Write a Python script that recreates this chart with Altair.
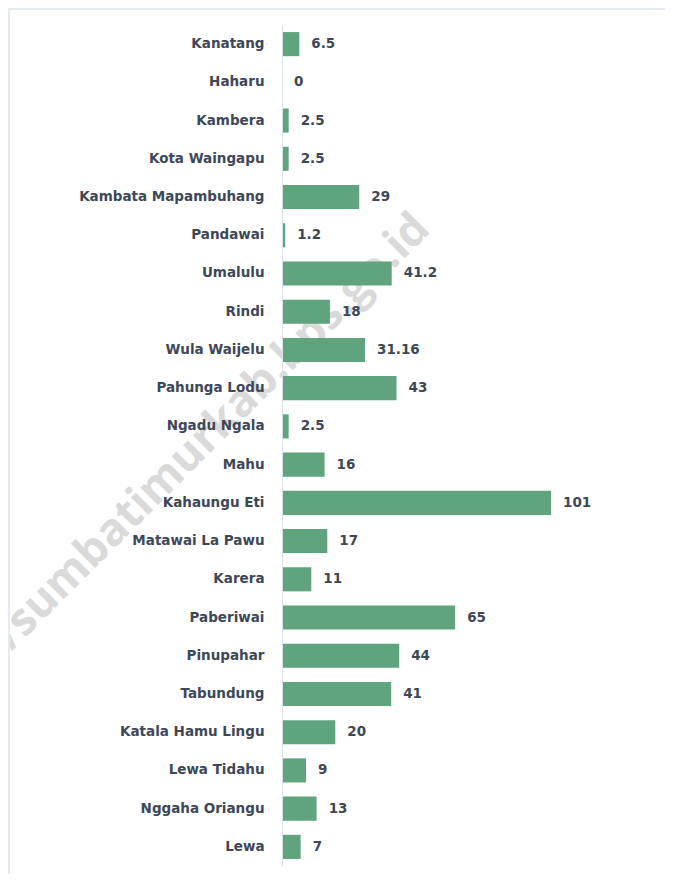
import altair as alt
import pandas as pd

categories = ["Kanatang", "Haharu", "Kambera", "Kota Waingapu", "Kambata Mapambuhang",
              "Pandawai", "Umalulu", "Rindi", "Wula Waijelu", "Pahunga Lodu",
              "Ngadu Ngala", "Mahu", "Kahaungu Eti", "Matawai La Pawu", "Karera",
              "Paberiwai", "Pinupahar", "Tabundung", "Katala Hamu Lingu",
              "Lewa Tidahu", "Nggaha Oriangu", "Lewa"]
values = [6.5, 0, 2.5, 2.5, 29, 1.2, 41.2, 18, 31.16, 43, 2.5, 16, 101, 17, 11,
          65, 44, 41, 20, 9, 13, 7]
labels = ["6.5", "0", "2.5", "2.5", "29", "1.2", "41.2", "18", "31.16", "43", "2.5",
          "16", "101", "17", "11", "65", "44", "41", "20", "9", "13", "7"]
watermark = ["https://sumbatimurkab.bps.go.id"]

df = pd.DataFrame({"cat": categories, "val": values, "label": labels})
wm = pd.DataFrame({"t": watermark})

TEXT = "#3d4758"
FONT = "DejaVu Sans"

y = alt.Y("cat:N", sort=None, title=None,
          scale=alt.Scale(paddingInner=0.37, paddingOuter=0.185),
          axis=alt.Axis(domainColor="#d9e2ec", domainWidth=1, ticks=False,
                        labelPadding=18, labelFont=FONT, labelFontSize=13.5,
                        labelFontWeight="bold", labelColor=TEXT, grid=False,
                        labelLimit=300, zindex=1))
x = alt.X("val:Q", title=None, scale=alt.Scale(domain=[0, 110]), axis=None)

wmark = alt.Chart(wm).mark_text(align="right", baseline="alphabetic", angle=315,
                                font="Open Sans", fontSize=45, fontWeight="bold",
                                color="#dadada").encode(
    x=alt.value(150), y=alt.value(206), text="t:N")

bars = alt.Chart(df).mark_bar(color="#5fa47f").encode(x=x, y=y)
text = alt.Chart(df).mark_text(align="left", baseline="middle", dx=12, font=FONT,
                               fontSize=13.5, fontWeight="bold", color=TEXT).encode(
    x=x, y=y, text="label:N")

border_top = alt.Chart(wm).mark_rule(color="#e6ebf1", strokeWidth=2).encode(
    x=alt.value(-274), x2=alt.value(400), y=alt.value(-16))
border_left = alt.Chart(wm).mark_rule(color="#e6ebf1", strokeWidth=2).encode(
    x=alt.value(-273), y=alt.value(-17), y2=alt.value(860))

chart = alt.layer(wmark, bars, text, border_top, border_left).properties(
    width=293, height=841,
    autosize=alt.AutoSizeParams(type="none"),
    padding={"left": 274, "top": 17, "right": 90, "bottom": 8},
).configure_view(stroke=None)

chart.save("out.html", embed_options={"renderer": "svg", "actions": False})
